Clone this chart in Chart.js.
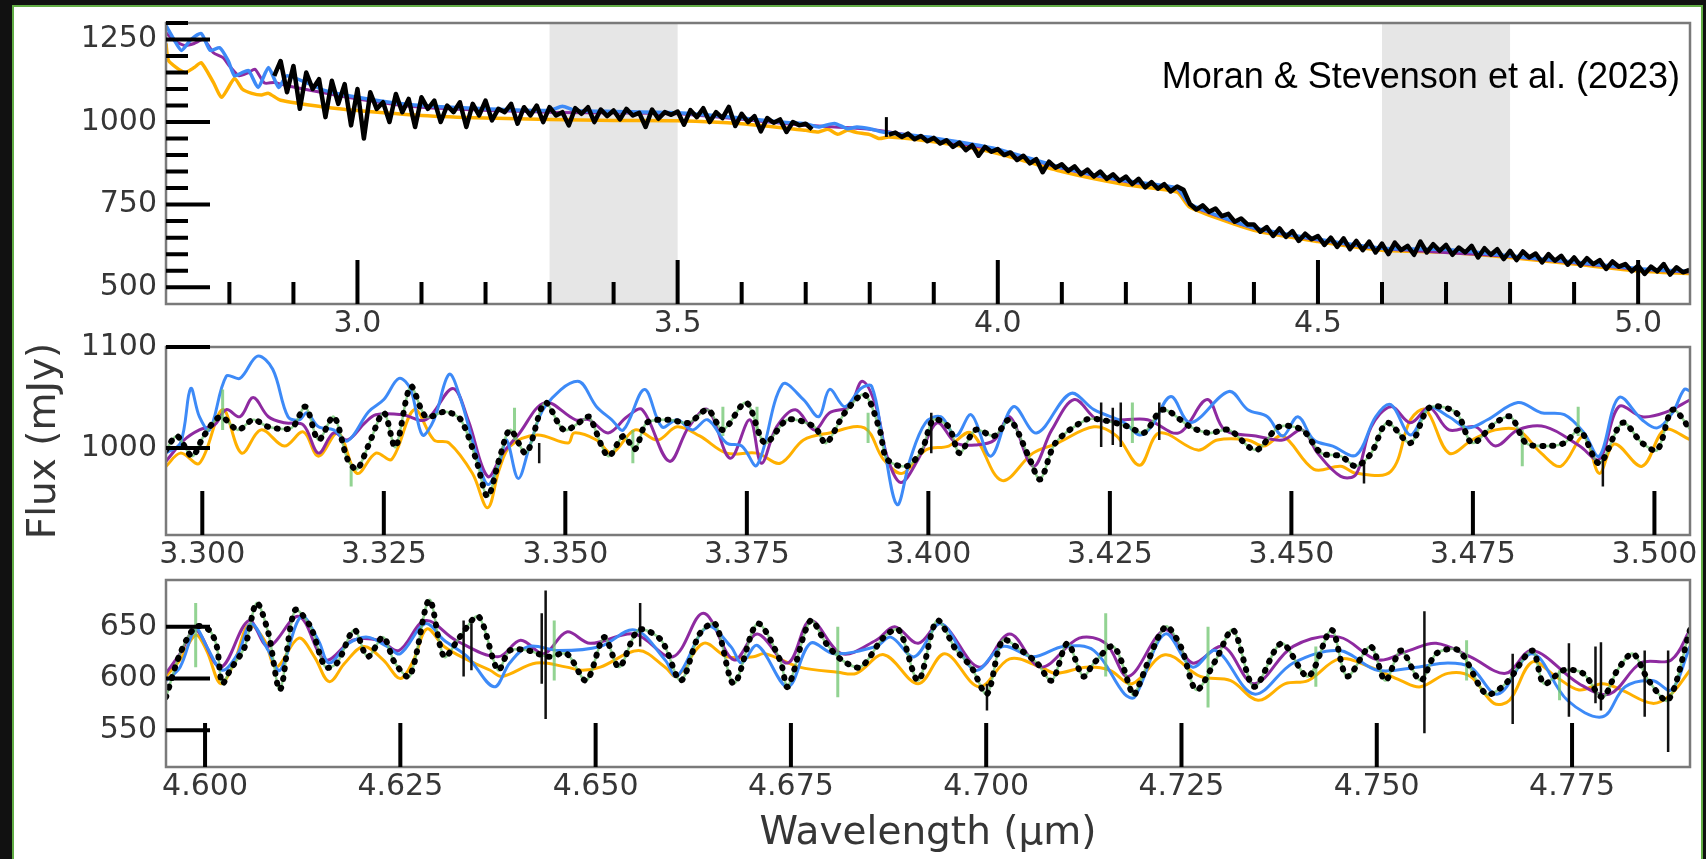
<!DOCTYPE html>
<html lang="en">
<head>
  <meta charset="UTF-8" />
  <title>Flux vs wavelength</title>
  <script src="https://cdn.jsdelivr.net/npm/chart.js"></script>
  <style>
    html, body { margin: 0; padding: 0; }
    body { width: 1706px; height: 859px; background: #111; position: relative; overflow: hidden; }
    #sheet { position: absolute; left: 12px; top: 5px; width: 1687px; height: 900px; border: 2px solid #62ad45; background: #fff; }
    canvas { position: absolute; left: 0; }
    #credit { position: absolute; right: 26px; top: 58px; font-family: "Liberation Sans", Arial, sans-serif; font-size: 36px; line-height: 36px; color: #000; white-space: nowrap; }
  </style>
</head>
<body>
  <div id="sheet"></div>
  <canvas id="wideChart" width="1706" height="365" style="top:-20px"></canvas>
  <canvas id="shortChart" width="1706" height="277" style="top:300px"></canvas>
  <canvas id="longChart" width="1706" height="319" style="top:540px"></canvas>
  <div id="credit">Moran &amp; Stevenson et al. (2023)</div>

  <script>
    // ---- full spectrum ----
    const wideXLabels = [3.0, 3.5, 4.0, 4.5, 5.0];
    const wideXMinor = [2.8, 2.9, 3.1, 3.2, 3.3, 3.4, 3.6, 3.7, 3.8, 3.9, 4.1, 4.2, 4.3, 4.4, 4.6, 4.7, 4.8, 4.9];
    const wideYLabels = [500, 750, 1000, 1250];
    const wideYMinor = [550, 600, 650, 700, 800, 850, 900, 950, 1050, 1100, 1150, 1200, 1300];
    const wideBands = [[3.3, 3.5], [4.6, 4.8]];

    // measured flux, one value every 0.01 um starting at 2.87 um (null = no data)
    const wideDataStart = 2.87;
    const wideDataStep = 0.01;
    const wideData = [
      1140, 1185, 1090,
      1170, 1040, 1150, 1100, 1130, 1015, 1125, 1055, 1115, 990,
      1100, 950, 1090, 1040, 1060, 1000, 1085, 1030, 1070, 985,
      1075, 1040, 1065, 1000, 1050, 1030, 1060, 985, 1055, 1020,
      1065, 1005, 1040, 1030, 1055, 995, 1045, 1020, 1050, 1000,
      1045, 1020, 1030, 990, 1042, 1025, 1045, 1000, 1038, 1018,
      1035, 1008, 1040, 1020, 1028, 985, 1038, 1010, 1030, 1022,
      1032, 992, 1036, 1015, 1042, 1000, 1030, 1012, 1046, 988,
      1025, 1000, 1018, 972, 1012, 998, 1008, 970, 1000, 990,
      995, 978, null, null, null, null, null, null, null, null,
      null, null, null, 962, 968, 955, 965, 948, 958, 942,
      952, 935, 945, 925, 938, 915, 930, 898, 925, 910,
      918, 900, 908, 885, 898, 875, 888, 848, 880, 862,
      872, 852, 866, 842, 856, 835, 850, 828, 842, 822,
      835, 812, 828, 802, 818, 798, 812, 790, 805, 795,
      752, 735, 748, 728, 738, 715, 722, 698, 708, 690,
      690, 668, 682, 655, 678, 652, 670, 640, 662, 645,
      655, 628, 650, 622, 648, 615, 640, 612, 638, 605,
      632, 600, 635, 612, 625, 598, 638, 605, 630, 610,
      628, 598, 620, 605, 625, 590, 618, 598, 615, 585,
      610, 582, 608, 590, 602, 575, 600, 580, 595, 568,
      590, 565, 588, 570, 582, 555, 578, 562, 570, 548,
      565, 540, 562, 548, 570, 538, 560, 545, 552
    ];
    // isolated spike where the data resumes: [wavelength, low, high]
    const wideSpikes = [[3.826, 955, 1015]];
    const wideBlue = [[2.701,1292],[2.712,1255],[2.725,1217],[2.740,1250],[2.756,1268],[2.770,1217],[2.785,1225],[2.798,1186],[2.808,1140],[2.820,1150],[2.830,1156],[2.845,1105],[2.861,1165],[2.877,1105],[2.890,1140],[2.950,1095],[3.000,1075],[3.050,1060],[3.100,1050],[3.200,1040],[3.300,1035],[3.320,1048],[3.340,1035],[3.400,1032],[3.500,1028],[3.600,1012],[3.660,1000],[3.700,995],[3.720,985],[3.745,996],[3.765,980],[3.780,985],[3.800,980],[3.820,970],[3.840,965],[3.900,952],[4.000,918],[4.100,862],[4.200,822],[4.280,800],[4.300,752],[4.400,680],[4.500,645],[4.600,618],[4.700,614],[4.800,595],[4.900,576],[5.000,556],[5.081,548]];
    const widePurple = [[2.701,1270],[2.715,1245],[2.730,1232],[2.745,1238],[2.760,1250],[2.775,1210],[2.790,1195],[2.800,1170],[2.815,1140],[2.830,1150],[2.840,1160],[2.855,1118],[2.870,1120],[2.890,1110],[3.000,1070],[3.100,1045],[3.300,1030],[3.500,1025],[3.700,990],[3.800,978],[3.900,948],[4.000,915],[4.100,860],[4.200,820],[4.280,798],[4.300,750],[4.400,678],[4.500,643],[4.600,617],[4.800,593],[5.000,554],[5.081,546]];
    const wideOrange = [[2.701,1238],[2.705,1186],[2.730,1150],[2.745,1165],[2.756,1180],[2.775,1120],[2.788,1075],[2.808,1132],[2.820,1100],[2.835,1087],[2.850,1082],[2.861,1087],[2.880,1066],[2.950,1045],[3.000,1035],[3.100,1020],[3.200,1012],[3.300,1008],[3.400,1005],[3.500,1004],[3.600,995],[3.700,975],[3.720,970],[3.735,978],[3.750,963],[3.765,975],[3.780,968],[3.800,962],[3.815,950],[3.830,955],[3.900,940],[4.000,905],[4.100,850],[4.200,810],[4.280,788],[4.300,742],[4.400,672],[4.500,638],[4.600,612],[4.700,606],[4.800,590],[4.900,570],[5.000,549],[5.081,541]];

    // ---- 3.3 - 3.5 um zoom ----
    const shortXLabels = [3.300, 3.325, 3.350, 3.375, 3.400, 3.425, 3.450, 3.475, 3.500];
    const shortYLabels = [1000, 1100];
    const shortBlue = [[3.2950,995],[3.2970,1005],[3.2984,1059],[3.2996,1031],[3.3010,1018],[3.3033,1071],[3.3052,1069],[3.3076,1091],[3.3097,1078],[3.3118,1031],[3.3134,1028],[3.3144,1035],[3.3160,1021],[3.3181,1018],[3.3200,1007],[3.3229,1036],[3.3250,1048],[3.3271,1069],[3.3287,1058],[3.3303,1013],[3.3319,1028],[3.3340,1073],[3.3356,1048],[3.3377,995],[3.3393,964],[3.3409,985],[3.3419,1008],[3.3435,970],[3.3451,1002],[3.3472,1041],[3.3517,1066],[3.3543,1041],[3.3564,1028],[3.3580,1018],[3.3609,1058],[3.3633,1021],[3.3654,1028],[3.3675,1018],[3.3696,1028],[3.3722,1005],[3.3743,1002],[3.3764,983],[3.3799,1063],[3.3828,1048],[3.3849,1031],[3.3864,1058],[3.3885,1041],[3.3907,1059],[3.3922,1061],[3.3938,1005],[3.3957,944],[3.3975,989],[3.3996,1025],[3.4017,1031],[3.4038,1012],[3.4059,1033],[3.4086,992],[3.4117,1041],[3.4149,1015],[3.4196,1054],[3.4228,1038],[3.4270,1025],[3.4291,1013],[3.4307,1021],[3.4334,1051],[3.4361,1025],[3.4414,1056],[3.4440,1038],[3.4467,1031],[3.4488,1012],[3.4509,1031],[3.4531,1008],[3.4557,1002],[3.4589,993],[3.4616,1031],[3.4637,1043],[3.4664,1013],[3.4690,1040],[3.4717,1031],[3.4743,1020],[3.4770,1028],[3.4812,1045],[3.4844,1035],[3.4876,1033],[3.4903,1015],[3.4924,992],[3.4951,1050],[3.4983,1028],[3.5004,1020],[3.5025,1035],[3.5041,1058],[3.5050,1056]];
    const shortPurple = [[3.2950,987],[3.2975,1008],[3.2996,1018],[3.3017,1023],[3.3033,1038],[3.3052,1031],[3.3070,1050],[3.3091,1031],[3.3113,1025],[3.3139,1023],[3.3160,995],[3.3181,1015],[3.3200,1008],[3.3224,1025],[3.3239,1033],[3.3276,1033],[3.3308,1028],[3.3345,1059],[3.3366,1028],[3.3393,972],[3.3414,995],[3.3435,1013],[3.3472,1045],[3.3514,1028],[3.3533,1028],[3.3559,1015],[3.3585,1031],[3.3606,1038],[3.3643,987],[3.3670,1021],[3.3696,1038],[3.3727,990],[3.3754,1028],[3.3770,985],[3.3791,1021],[3.3817,1038],[3.3843,1018],[3.3864,1035],[3.3891,1041],[3.3909,1066],[3.3928,1041],[3.3943,992],[3.3962,966],[3.3986,989],[3.4012,1025],[3.4038,1005],[3.4065,1003],[3.4091,1008],[3.4112,1031],[3.4144,982],[3.4170,1018],[3.4201,1048],[3.4233,1028],[3.4270,1028],[3.4302,1028],[3.4345,1015],[3.4384,1048],[3.4408,1018],[3.4451,1012],[3.4488,1008],[3.4515,1018],[3.4536,995],[3.4568,972],[3.4589,974],[3.4610,1021],[3.4637,1041],[3.4664,1025],[3.4690,1040],[3.4717,1018],[3.4754,1021],[3.4781,1002],[3.4812,1018],[3.4850,1021],[3.4897,1002],[3.4924,989],[3.4951,1041],[3.4983,1031],[3.5014,1035],[3.5050,1048]];
    const shortOrange = [[3.2950,982],[3.2970,995],[3.2996,985],[3.3028,1038],[3.3054,995],[3.3081,1018],[3.3113,1002],[3.3139,1016],[3.3160,992],[3.3187,1015],[3.3213,975],[3.3239,995],[3.3261,989],[3.3292,1038],[3.3319,1008],[3.3340,1005],[3.3372,975],[3.3393,941],[3.3409,979],[3.3424,1002],[3.3461,1013],[3.3504,1005],[3.3512,1015],[3.3543,1008],[3.3564,995],[3.3596,1018],[3.3627,1008],[3.3654,1021],[3.3685,1012],[3.3722,995],[3.3764,995],[3.3796,985],[3.3828,1008],[3.3864,1015],[3.3912,1020],[3.3938,989],[3.3964,975],[3.3996,998],[3.4028,1002],[3.4059,1015],[3.4101,968],[3.4144,995],[3.4175,1004],[3.4228,1021],[3.4259,1012],[3.4291,983],[3.4318,1015],[3.4371,998],[3.4398,1008],[3.4440,1008],[3.4462,1002],[3.4488,1012],[3.4531,979],[3.4568,982],[3.4589,975],[3.4637,977],[3.4664,1028],[3.4685,1038],[3.4717,995],[3.4749,1008],[3.4781,1018],[3.4812,1018],[3.4844,995],[3.4871,982],[3.4903,1012],[3.4924,975],[3.4945,1004],[3.4983,982],[3.5014,1018],[3.5050,1008]];
    const shortData = [[3.2950,998],[3.2965,1012],[3.2986,992],[3.3002,1012],[3.3025,1031],[3.3049,1018],[3.3070,1028],[3.3091,1021],[3.3123,1020],[3.3142,1041],[3.3160,1008],[3.3181,1031],[3.3200,989],[3.3213,979],[3.3229,1003],[3.3250,1035],[3.3266,1001],[3.3287,1061],[3.3308,1031],[3.3335,1036],[3.3356,1028],[3.3377,989],[3.3393,952],[3.3409,989],[3.3424,1018],[3.3446,995],[3.3472,1045],[3.3498,1018],[3.3525,1028],[3.3533,1031],[3.3559,992],[3.3580,1012],[3.3596,999],[3.3612,1025],[3.3643,1028],[3.3670,1025],[3.3696,1038],[3.3717,1018],[3.3749,1045],[3.3775,1005],[3.3806,1028],[3.3843,1021],[3.3859,1005],[3.3885,1035],[3.3912,1053],[3.3933,1018],[3.3943,989],[3.3970,982],[3.3991,998],[3.4007,1028],[3.4028,1021],[3.4043,995],[3.4065,1018],[3.4091,1012],[3.4112,1028],[3.4138,992],[3.4154,969],[3.4175,1005],[3.4217,1028],[3.4238,1028],[3.4276,1021],[3.4297,1015],[3.4323,1038],[3.4361,1021],[3.4387,1015],[3.4414,1018],[3.4451,998],[3.4483,1021],[3.4515,1018],[3.4541,995],[3.4568,992],[3.4589,982],[3.4610,995],[3.4632,1025],[3.4664,1005],[3.4690,1040],[3.4727,1035],[3.4749,1005],[3.4781,1025],[3.4802,1031],[3.4823,1005],[3.4850,1002],[3.4876,1005],[3.4897,1018],[3.4924,985],[3.4956,1025],[3.4983,1005],[3.5004,998],[3.5025,1038],[3.5050,1018]];
    // error bars: [wavelength, low, high]
    const shortGreenBars = [[3.3028,1018,1058],[3.3205,962,981],[3.3430,1008,1040],[3.3593,985,1018],[3.3717,1012,1041],[3.3764,1012,1041],[3.3917,1005,1035],[3.4281,1005,1045],[3.4818,982,1018],[3.4895,1012,1041]];
    const shortBlackBars = [[3.3464,985,1005],[3.4004,995,1035],[3.4238,1001,1045],[3.4254,1003,1040],[3.4265,1001,1045],[3.4318,1008,1045],[3.4600,965,988],[3.4929,962,988]];

    // ---- 4.6 - 4.8 um zoom ----
    const longXLabels = [4.600, 4.625, 4.650, 4.675, 4.700, 4.725, 4.750, 4.775];
    const longYLabels = [550, 600, 650];
    const longBlue = [[4.5950,598],[4.5968,611],[4.5988,648],[4.6002,631],[4.6022,608],[4.6042,624],[4.6059,653],[4.6081,627],[4.6096,608],[4.6123,660],[4.6145,637],[4.6159,615],[4.6184,634],[4.6208,640],[4.6233,631],[4.6250,624],[4.6282,653],[4.6306,637],[4.6336,621],[4.6370,592],[4.6390,615],[4.6414,631],[4.6453,627],[4.6506,631],[4.6550,647],[4.6589,618],[4.6604,602],[4.6643,650],[4.6673,631],[4.6687,615],[4.6707,632],[4.6746,592],[4.6775,634],[4.6805,624],[4.6859,631],[4.6878,640],[4.6908,621],[4.6942,653],[4.6986,608],[4.7021,631],[4.7060,621],[4.7099,631],[4.7138,627],[4.7177,585],[4.7190,582],[4.7229,643],[4.7264,611],[4.7294,627],[4.7343,585],[4.7393,615],[4.7452,627],[4.7501,608],[4.7551,611],[4.7591,615],[4.7620,611],[4.7655,585],[4.7699,624],[4.7744,579],[4.7789,563],[4.7818,592],[4.7853,598],[4.7877,589],[4.7901,631]];
    const longPurple = [[4.5950,605],[4.5968,624],[4.5988,647],[4.6020,611],[4.6056,656],[4.6081,631],[4.6120,660],[4.6154,618],[4.6189,637],[4.6223,637],[4.6248,627],[4.6282,656],[4.6321,637],[4.6375,621],[4.6404,637],[4.6434,624],[4.6463,645],[4.6493,634],[4.6550,643],[4.6599,621],[4.6638,663],[4.6677,618],[4.6707,643],[4.6746,615],[4.6775,656],[4.6815,624],[4.6859,637],[4.6883,650],[4.6913,634],[4.6942,653],[4.6991,611],[4.7030,643],[4.7070,611],[4.7119,639],[4.7153,634],[4.7182,602],[4.7229,647],[4.7264,615],[4.7303,631],[4.7343,595],[4.7393,631],[4.7452,640],[4.7501,618],[4.7541,627],[4.7576,634],[4.7620,621],[4.7665,605],[4.7699,627],[4.7759,595],[4.7798,585],[4.7838,615],[4.7877,618],[4.7901,647]];
    const longOrange = [[4.5950,602],[4.5968,618],[4.5988,642],[4.6002,627],[4.6020,595],[4.6037,615],[4.6056,652],[4.6076,637],[4.6091,611],[4.6120,639],[4.6140,621],[4.6159,597],[4.6179,615],[4.6203,631],[4.6228,618],[4.6250,600],[4.6267,618],[4.6284,648],[4.6306,631],[4.6336,618],[4.6365,608],[4.6380,602],[4.6424,615],[4.6463,611],[4.6483,608],[4.6506,611],[4.6555,627],[4.6589,611],[4.6604,602],[4.6638,634],[4.6668,621],[4.6702,621],[4.6717,624],[4.6761,611],[4.6810,606],[4.6834,605],[4.6869,623],[4.6913,595],[4.6947,624],[4.6991,592],[4.7030,619],[4.7070,611],[4.7089,605],[4.7128,611],[4.7158,608],[4.7187,595],[4.7229,623],[4.7274,602],[4.7313,598],[4.7348,579],[4.7383,595],[4.7412,598],[4.7452,619],[4.7492,611],[4.7531,598],[4.7556,592],[4.7591,605],[4.7620,602],[4.7650,576],[4.7670,579],[4.7699,616],[4.7729,602],[4.7759,589],[4.7789,595],[4.7813,589],[4.7853,576],[4.7877,585],[4.7901,608]];
    const longData = [[4.5950,582],[4.5968,624],[4.5988,650],[4.6005,647],[4.6015,631],[4.6022,595],[4.6032,608],[4.6051,631],[4.6066,673],[4.6081,644],[4.6096,589],[4.6115,666],[4.6135,650],[4.6154,611],[4.6169,615],[4.6191,647],[4.6208,621],[4.6228,640],[4.6243,615],[4.6262,602],[4.6287,676],[4.6306,621],[4.6326,640],[4.6350,660],[4.6375,608],[4.6390,627],[4.6414,627],[4.6439,621],[4.6463,624],[4.6488,598],[4.6511,640],[4.6530,611],[4.6555,647],[4.6584,637],[4.6609,598],[4.6633,643],[4.6653,653],[4.6677,595],[4.6707,653],[4.6736,618],[4.6746,592],[4.6775,656],[4.6795,634],[4.6815,618],[4.6839,611],[4.6869,640],[4.6888,647],[4.6913,598],[4.6937,656],[4.6962,627],[4.6981,611],[4.7001,585],[4.7021,637],[4.7045,627],[4.7065,615],[4.7084,598],[4.7104,634],[4.7124,602],[4.7138,615],[4.7163,631],[4.7187,585],[4.7190,584],[4.7229,650],[4.7249,631],[4.7269,589],[4.7294,618],[4.7316,647],[4.7343,592],[4.7378,634],[4.7412,602],[4.7442,647],[4.7462,602],[4.7492,631],[4.7511,598],[4.7531,627],[4.7556,598],[4.7576,624],[4.7605,627],[4.7640,585],[4.7665,595],[4.7699,627],[4.7714,595],[4.7739,608],[4.7764,605],[4.7789,582],[4.7808,608],[4.7828,624],[4.7848,598],[4.7873,579],[4.7901,647]];
    const longGreenBars = [[4.5988,611,673],[4.6447,598,656],[4.6810,582,650],[4.7153,602,663],[4.7284,572,650],[4.7422,592,631],[4.7615,598,637],[4.7734,579,608]];
    const longBlackBars = [[4.6331,602,656],[4.6341,608,653],[4.6431,595,663],[4.6436,561,685],[4.6557,631,673],[4.7001,569,595],[4.7561,547,665],[4.7674,556,624],[4.7746,563,634],[4.7780,576,631],[4.7787,569,635],[4.7843,563,627],[4.7873,529,627]];

    const FONT = "'DejaVu Sans', Verdana, sans-serif";
    const INK = '#363636';
    const BLUE = '#3d8af7', PURPLE = '#8e2aa0', ORANGE = '#ffb000', GREEN = 'rgba(110, 196, 110, 0.75)';

    const pts = pairs => pairs.map(([x, y]) => ({ x, y }));

    function curve(pairs, color, width, order, extra) {
      return Object.assign({
        data: pts(pairs), borderColor: color, borderWidth: width,
        pointRadius: 0, fill: false, tension: 0.35, order
      }, extra || {});
    }

    // each error bar becomes a short vertical segment, separated by gaps
    function errorBars(rows, color, width, order) {
      const data = [];
      rows.forEach(([x, lo, hi]) => { data.push({ x, y: lo }, { x, y: hi }, { x, y: null }); });
      return { data, borderColor: color, borderWidth: width, pointRadius: 0, tension: 0, spanGaps: false, order };
    }

    // shaded bands, grey frame and inward-pointing ticks
    function framePlugin(bands, xTicks, yTicks) {
      return {
        id: 'frame',
        beforeDatasetsDraw(chart) {
          const { ctx, chartArea: a, scales: { x } } = chart;
          ctx.save();
          ctx.fillStyle = '#e6e6e6';
          bands.forEach(([lo, hi]) => {
            const l = x.getPixelForValue(lo), r = x.getPixelForValue(hi);
            ctx.fillRect(l, a.top, r - l, a.bottom - a.top);
          });
          ctx.restore();
        },
        afterDatasetsDraw(chart) {
          const { ctx, chartArea: a, scales: { x, y } } = chart;
          ctx.save();
          ctx.strokeStyle = '#7a7a7a';
          ctx.lineWidth = 2.5;
          ctx.strokeRect(a.left, a.top, a.right - a.left, a.bottom - a.top);
          ctx.strokeStyle = '#000';
          ctx.lineWidth = 4;
          ctx.beginPath();
          xTicks.forEach(([v, len]) => {
            const px = x.getPixelForValue(v);
            ctx.moveTo(px, a.bottom); ctx.lineTo(px, a.bottom - len);
          });
          yTicks.forEach(([v, len]) => {
            const py = y.getPixelForValue(v);
            ctx.moveTo(a.left, py); ctx.lineTo(a.left + len, py);
          });
          ctx.stroke();
          ctx.restore();
        }
      };
    }

    const MAJOR = 44, MINOR = 22;
    const tickMarks = (major, minor) => major.map(v => [v, MAJOR]).concat((minor || []).map(v => [v, MINOR]));

    function buildPanel(id, p) {
      const labelFont = { family: FONT, size: 30 };
      return new Chart(document.getElementById(id), {
        type: 'line',
        data: { datasets: p.datasets },
        options: {
          responsive: false,
          animation: false,
          events: [],
          layout: { padding: { left: 0, right: 16, top: p.padTop, bottom: 0 } },
          plugins: { legend: { display: false }, tooltip: { enabled: false } },
          scales: {
            x: {
              type: 'linear', min: p.x[0], max: p.x[1],
              grid: { display: false, drawTicks: false },
              border: { display: false },
              ticks: {
                autoSkip: false, maxRotation: 0, minRotation: 0, padding: 2,
                color: INK, font: labelFont,
                callback: v => Number(v).toFixed(p.digits)
              },
              afterBuildTicks: s => { s.ticks = p.xLabels.map(value => ({ value })); },
              afterFit: s => { s.height = p.xHeight; },
              title: p.xTitle
                ? { display: true, text: p.xTitle, color: INK, font: { family: FONT, size: 39 }, padding: { top: 0, bottom: 2 } }
                : { display: false }
            },
            y: {
              type: 'linear', min: p.y[0], max: p.y[1],
              grid: { display: false, drawTicks: false },
              border: { display: false },
              ticks: {
                autoSkip: false, padding: 9, color: INK, font: labelFont,
                callback: v => String(v)
              },
              afterBuildTicks: s => { s.ticks = p.yLabels.map(value => ({ value })); },
              afterFit: s => { s.width = 166; },
              title: p.yTitle
                ? { display: true, text: p.yTitle, color: INK, font: { family: FONT, size: 39 }, padding: { top: 21, bottom: 0 } }
                : { display: false }
            }
          }
        },
        plugins: [framePlugin(p.bands || [], tickMarks(p.xLabels, p.xMinor), tickMarks(p.yLabels, p.yMinor))]
      });
    }

    const wideSeries = wideData.map((y, i) => ({ x: +(wideDataStart + i * wideDataStep).toFixed(3), y }));

    buildPanel('wideChart', {
      x: [2.701, 5.081], y: [449, 1300], digits: 1,
      xLabels: wideXLabels, xMinor: wideXMinor, yLabels: wideYLabels, yMinor: wideYMinor,
      bands: wideBands, padTop: 43, xHeight: 41,
      datasets: [
        { data: wideSeries, borderColor: '#000', borderWidth: 4.5, pointRadius: 0, tension: 0, spanGaps: false, borderJoinStyle: 'round', order: 0 },
        errorBars(wideSpikes, '#000', 3, 0),
        curve(wideBlue, BLUE, 3.5, 1, { tension: 0.2 }),
        curve(widePurple, PURPLE, 3, 2, { tension: 0.2 }),
        curve(wideOrange, ORANGE, 3.5, 3, { tension: 0.2 })
      ]
    });

    buildPanel('shortChart', {
      x: [3.2950, 3.5049], y: [914, 1100], digits: 3,
      xLabels: shortXLabels, yLabels: shortYLabels,
      padTop: 47, xHeight: 42, yTitle: 'Flux (mJy)',
      datasets: [
        curve(shortData, '#000', 6, 0, { borderDash: [1, 9], borderCapStyle: 'round', tension: 0.3 }),
        errorBars(shortBlackBars, '#111', 2.5, 1),
        errorBars(shortGreenBars, GREEN, 3, 2),
        curve(shortData, GREEN, 2.5, 3, { tension: 0.3 }),
        curve(shortBlue, BLUE, 3, 4),
        curve(shortPurple, PURPLE, 3, 5),
        curve(shortOrange, ORANGE, 3, 6)
      ]
    });

    buildPanel('longChart', {
      x: [4.5950, 4.7901], y: [514.5, 695.2], digits: 3,
      xLabels: longXLabels, yLabels: longYLabels,
      padTop: 40, xHeight: 92, xTitle: 'Wavelength (\u03bcm)',
      datasets: [
        curve(longData, '#000', 6, 0, { borderDash: [1, 9], borderCapStyle: 'round', tension: 0.3 }),
        errorBars(longBlackBars, '#111', 2.5, 1),
        errorBars(longGreenBars, GREEN, 3, 2),
        curve(longData, GREEN, 2.5, 3, { tension: 0.3 }),
        curve(longBlue, BLUE, 3, 4),
        curve(longPurple, PURPLE, 3, 5),
        curve(longOrange, ORANGE, 3, 6)
      ]
    });
  </script>
</body>
</html>
